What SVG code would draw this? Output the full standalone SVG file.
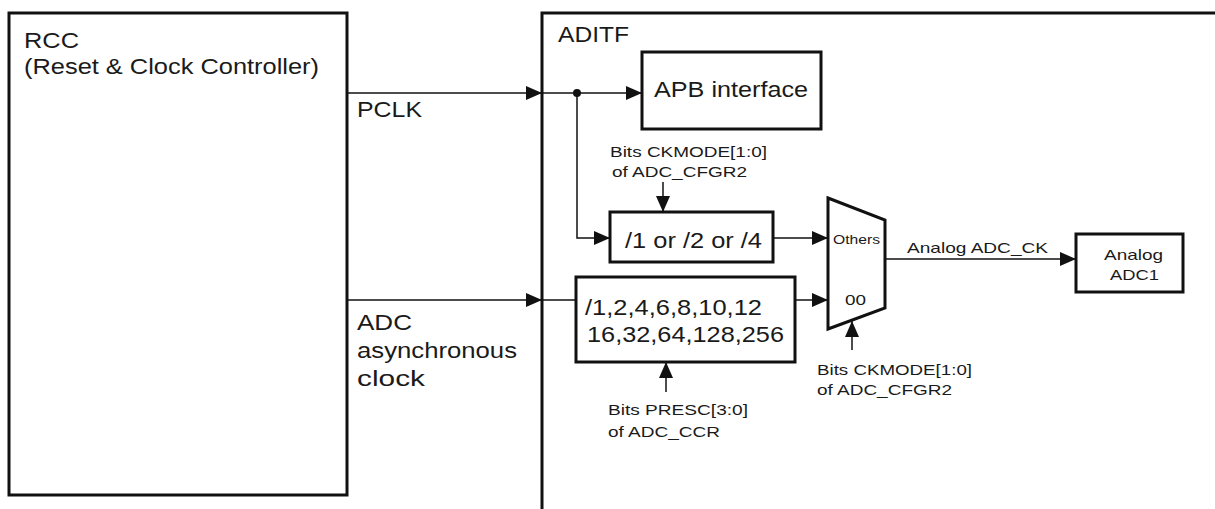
<svg xmlns="http://www.w3.org/2000/svg" width="1215" height="509" viewBox="0 0 1215 509">
<style>
.box{fill:none;stroke:#111;stroke-width:3}
.wire{fill:none;stroke:#111;stroke-width:1.5}
.t{font-family:"Liberation Sans",Arial,sans-serif;fill:#1a1a1a}
.big{font-size:22px}
.med{font-size:20px}
.sm{font-size:15px}
.xs{font-size:12px}
</style>
<defs>
<marker id="ah" markerUnits="userSpaceOnUse" markerWidth="16" markerHeight="14" viewBox="0 0 16 14" refX="16" refY="7" orient="auto">
<path d="M0,0 L16,7 L0,14 Z" fill="#111"/>
</marker>
</defs>
<rect width="1215" height="509" fill="#fff"/>
<g id="rcc">
<rect class="box" x="9" y="13" width="338" height="482"/>
<text class="t big" x="24" y="48" textLength="55" lengthAdjust="spacingAndGlyphs">RCC</text>
<text class="t big" x="24" y="74" textLength="295" lengthAdjust="spacingAndGlyphs">(Reset &amp; Clock Controller)</text>
</g>
<g id="aditf">
<path class="box" d="M542,509 V13 H1215"/>
<text class="t big" x="558" y="42" textLength="71" lengthAdjust="spacingAndGlyphs">ADITF</text>
</g>
<g id="apb">
<rect class="box" x="642" y="52" width="179" height="77"/>
<text class="t big" x="654" y="97" textLength="154" lengthAdjust="spacingAndGlyphs">APB interface</text>
</g>
<g id="div124">
<rect class="box" x="610" y="212" width="163" height="50"/>
<text class="t big" x="625" y="248" textLength="137" lengthAdjust="spacingAndGlyphs">/1 or /2 or /4</text>
</g>
<g id="presc">
<rect class="box" x="576" y="277" width="219" height="85"/>
<text class="t big" x="585" y="315" textLength="177" lengthAdjust="spacingAndGlyphs">/1,2,4,6,8,10,12</text>
<text class="t big" x="587" y="342" textLength="197" lengthAdjust="spacingAndGlyphs">16,32,64,128,256</text>
</g>
<g id="mux">
<path class="box" d="M828,198 L885,220 L885,308 L828,329 Z"/>
<text class="t xs" x="833" y="244" textLength="47" lengthAdjust="spacingAndGlyphs">Others</text>
<text class="t sm" x="845" y="305" textLength="21" lengthAdjust="spacingAndGlyphs">00</text>
</g>
<g id="adc1">
<rect class="box" x="1076" y="234" width="107" height="58"/>
<text class="t sm" x="1104" y="260" textLength="59" lengthAdjust="spacingAndGlyphs">Analog</text>
<text class="t sm" x="1110" y="280" textLength="49" lengthAdjust="spacingAndGlyphs">ADC1</text>
</g>
<g id="connectors">
<path class="wire" d="M347,93 H542" marker-end="url(#ah)"/>
<path class="wire" d="M542,93 H642" marker-end="url(#ah)"/>
<circle cx="577" cy="93" r="4" fill="#111"/>
<path class="wire" d="M577,93 V238 H610" marker-end="url(#ah)"/>
<path class="wire" d="M663,182 V212" marker-end="url(#ah)"/>
<path class="wire" d="M773,238 H828" marker-end="url(#ah)"/>
<path class="wire" d="M347,300 H542" marker-end="url(#ah)"/>
<path class="wire" d="M542,300 H576"/>
<path class="wire" d="M795,300 H828" marker-end="url(#ah)"/>
<path class="wire" d="M666,392 V362" marker-end="url(#ah)"/>
<path class="wire" d="M852,350 V321" marker-end="url(#ah)"/>
<path class="wire" d="M885,259 H1076" marker-end="url(#ah)"/>
</g>
<g id="labels">
<text class="t big" x="357" y="117" textLength="65" lengthAdjust="spacingAndGlyphs">PCLK</text>
<text class="t big" x="357" y="330" textLength="55" lengthAdjust="spacingAndGlyphs">ADC</text>
<text class="t big" x="357" y="358" textLength="160" lengthAdjust="spacingAndGlyphs">asynchronous</text>
<text class="t big" x="357" y="386" textLength="68" lengthAdjust="spacingAndGlyphs">clock</text>
<text class="t sm" x="610" y="157" textLength="157" lengthAdjust="spacingAndGlyphs">Bits CKMODE[1:0]</text>
<text class="t sm" x="612" y="177" textLength="135" lengthAdjust="spacingAndGlyphs">of ADC_CFGR2</text>
<text class="t sm" x="608" y="415" textLength="140" lengthAdjust="spacingAndGlyphs">Bits PRESC[3:0]</text>
<text class="t sm" x="608" y="437" textLength="112" lengthAdjust="spacingAndGlyphs">of ADC_CCR</text>
<text class="t sm" x="817" y="375" textLength="155" lengthAdjust="spacingAndGlyphs">Bits CKMODE[1:0]</text>
<text class="t sm" x="817" y="395" textLength="135" lengthAdjust="spacingAndGlyphs">of ADC_CFGR2</text>
<text class="t sm" x="907" y="253" textLength="141" lengthAdjust="spacingAndGlyphs">Analog ADC_CK</text>
</g>
</svg>
